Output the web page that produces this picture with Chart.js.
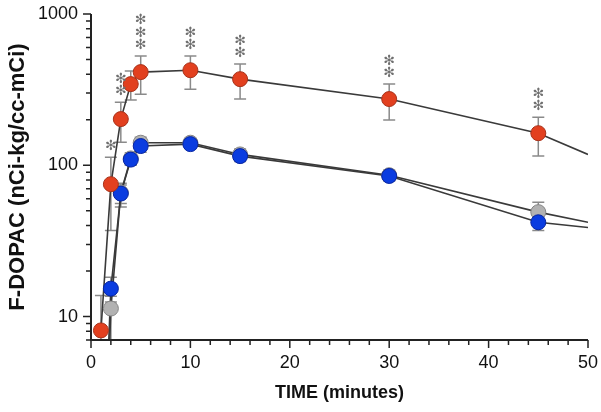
<!DOCTYPE html>
<html>
<head>
<meta charset="utf-8">
<script src="https://cdn.jsdelivr.net/npm/chart.js@4/dist/chart.umd.min.js"></script>
<style>
  html, body { margin: 0; padding: 0; background: #fff; }
  #wrap { width: 601px; height: 412px; }
</style>
</head>
<body>
<div id="wrap"><canvas id="c" width="601" height="412"></canvas></div>
<script>
// ── Data ────────────────────────────────────────────────────────
const redTimes  = [1, 2, 3, 4, 5, 10, 15, 30, 45];
const redMean   = [8.1, 75, 202, 344, 413, 425, 371, 274, 163];
const redHi     = [13.8, 113, 261, 420, 527, 527, 467, 344, 208];
const redLo     = [3, 37, 142, 270, 295, 318, 274, 199, 115];
const redStars  = [0, 1, 2, 0, 3, 2, 2, 2, 2];

const blueTimes = [2, 3, 4, 5, 10, 15, 30, 45];
const blueMean  = [15.3, 65, 109, 134, 138, 115, 85, 42];
const blueHi    = [18.2, 74, 117, 147, 147, 124, 91, 46];
const blueLo    = [12.5, 53, 100, 122, 129, 106, 79, 37];

const grayTimes = [2, 3, 4, 5, 10, 15, 30, 45];
const grayMean  = [11.3, 66, 111, 141, 141, 118, 86, 49];
const grayHi    = [13.6, 76, 121, 153, 151, 128, 93, 57];
const grayLo    = [6, 56, 101, 129, 131, 108, 79, 43];

// fitted curves (extend past last sample)
const redFitX   = [1, 2, 3, 4, 5, 10, 15, 30, 45, 50];
const redFitY   = [8.1, 75, 202, 344, 413, 425, 371, 274, 163, 118];
const blueFitX  = [1.7, 2, 3, 4, 5, 10, 15, 30, 45, 50];
const blueFitY  = [5, 15.3, 65, 109, 134, 138, 115, 85, 42, 38.8];
const grayFitX  = [1.75, 2, 3, 4, 5, 10, 15, 30, 45, 50];
const grayFitY  = [4, 11.3, 66, 111, 141, 141, 118, 86, 49, 42];

// axes
const xMajor = [0, 10, 20, 30, 40, 50];
const xMinor = [2, 4, 6, 8, 12, 14, 16, 18, 22, 24, 26, 28, 32, 34, 36, 38, 42, 44, 46, 48];
const yMajor = [10, 100, 1000];
const yMinor = [7, 8, 9, 20, 30, 40, 50, 60, 70, 80, 90, 200, 300, 400, 500, 600, 700, 800, 900];

const pts = (xs, ys) => xs.map((x, i) => ({ x, y: ys[i] }));

const RED  = '#e2401f', RED_EDGE  = '#a8321a';
const BLUE = '#0a3ce0', BLUE_EDGE = '#0624a0';
const GRAY = '#b2b2b2', GRAY_EDGE = '#858585';
const LINE = '#3a3a3a';
const FONT = "'Liberation Sans', Arial, sans-serif";

// ── Error bars, asterisks, axes ─────────────────────────────────
const errGroups = [
  { xs: grayTimes, hi: grayHi, lo: grayLo },
  { xs: blueTimes, hi: blueHi, lo: blueLo },
  { xs: redTimes,  hi: redHi,  lo: redLo  },
];

const decor = {
  id: 'decor',
  beforeDatasetsDraw(chart) {
    const { ctx, chartArea: a, scales: { x, y } } = chart;
    ctx.save();
    ctx.beginPath();
    ctx.rect(a.left, a.top - 20, a.right - a.left, a.bottom - a.top + 20);
    ctx.clip();
    ctx.strokeStyle = '#8a8a8a';
    ctx.lineWidth = 1.5;
    errGroups.forEach(g => {
      g.xs.forEach((t, i) => {
        const px = x.getPixelForValue(t);
        const yh = y.getPixelForValue(g.hi[i]);
        const yl = y.getPixelForValue(g.lo[i]);
        ctx.beginPath();
        ctx.moveTo(px, yh); ctx.lineTo(px, yl);
        ctx.moveTo(px - 6, yh); ctx.lineTo(px + 6, yh);
        ctx.moveTo(px - 6, yl); ctx.lineTo(px + 6, yl);
        ctx.stroke();
      });
    });
    ctx.restore();
  },
  afterDraw(chart) {
    const { ctx, chartArea: a, scales: { x, y } } = chart;
    ctx.save();
    // significance marks
    ctx.fillStyle = '#707070';
    ctx.font = `14px 'DejaVu Sans', sans-serif`;
    ctx.textAlign = 'center';
    ctx.textBaseline = 'middle';
    redTimes.forEach((t, i) => {
      const px = x.getPixelForValue(t);
      const base = y.getPixelForValue(redHi[i]) - 10.5;
      for (let k = 0; k < redStars[i]; k++) ctx.fillText('✻', px, base - k * 12.5);
    });

    // axis lines + ticks
    ctx.strokeStyle = '#222';
    ctx.lineWidth = 2;
    ctx.beginPath();
    ctx.moveTo(a.left, a.top); ctx.lineTo(a.left, a.bottom);
    ctx.lineTo(a.right, a.bottom);
    ctx.stroke();
    ctx.lineWidth = 1.5;
    ctx.beginPath();
    xMajor.forEach(v => { const p = x.getPixelForValue(v); ctx.moveTo(p, a.bottom); ctx.lineTo(p, a.bottom + 8); });
    xMinor.forEach(v => { const p = x.getPixelForValue(v); ctx.moveTo(p, a.bottom); ctx.lineTo(p, a.bottom + 5); });
    yMajor.forEach(v => { const p = y.getPixelForValue(v); ctx.moveTo(a.left, p); ctx.lineTo(a.left - 8, p); });
    yMinor.forEach(v => { const p = y.getPixelForValue(v); ctx.moveTo(a.left, p); ctx.lineTo(a.left - 5, p); });
    ctx.stroke();
    ctx.restore();
  }
};

// ── Chart ───────────────────────────────────────────────────────
const fitLine = (data) => ({
  data, type: 'line', showLine: true, borderColor: LINE, borderWidth: 1.6,
  pointRadius: 0, fill: false, tension: 0, order: 10,
});
const markers = (data, fill, edge, order) => ({
  data, showLine: false, backgroundColor: fill, borderColor: edge,
  borderWidth: 1, pointRadius: 7.5, pointHoverRadius: 7.5, order,
});

new Chart(document.getElementById('c'), {
  type: 'scatter',
  data: {
    datasets: [
      markers(pts(redTimes, redMean), RED, RED_EDGE, 0),
      markers(pts(blueTimes, blueMean), BLUE, BLUE_EDGE, 1),
      markers(pts(grayTimes, grayMean), GRAY, GRAY_EDGE, 2),
      fitLine(pts(redFitX, redFitY)),
      fitLine(pts(blueFitX, blueFitY)),
      fitLine(pts(grayFitX, grayFitY)),
    ],
  },
  options: {
    responsive: false,
    animation: false,
    layout: { padding: { top: 14, right: 13, left: 0, bottom: 0 } },
    plugins: { legend: { display: false }, tooltip: { enabled: false } },
    scales: {
      x: {
        type: 'linear', min: 0, max: 50,
        afterBuildTicks: s => { s.ticks = xMajor.map(v => ({ value: v })); },
        afterFit: s => { s.height = 72; s.paddingLeft = 0; s.paddingRight = 0; },
        grid: { display: false, drawTicks: false },
        border: { display: false },
        ticks: { color: '#111', font: { family: FONT, size: 18 }, padding: 12, maxRotation: 0 },
        title: { display: true, text: 'TIME (minutes)', color: '#111',
                 font: { family: FONT, size: 18, weight: 'bold' }, padding: { top: 0, bottom: 8 } },
      },
      y: {
        type: 'logarithmic', min: 7, max: 1000,
        afterBuildTicks: s => { s.ticks = yMajor.map(v => ({ value: v })); },
        afterFit: s => { s.width = 91; s.paddingTop = 0; s.paddingBottom = 0; },
        grid: { display: false, drawTicks: false },
        border: { display: false },
        ticks: { color: '#111', font: { family: FONT, size: 18 }, padding: 13,
                 callback: v => String(v) },
        title: { display: true, text: 'F-DOPAC (nCi-kg/cc-mCi)', color: '#111',
                 font: { family: FONT, size: 22, weight: 'bold' }, padding: { top: 5, bottom: 0 } },
      },
    },
  },
  plugins: [decor],
});
</script>
</body>
</html>
